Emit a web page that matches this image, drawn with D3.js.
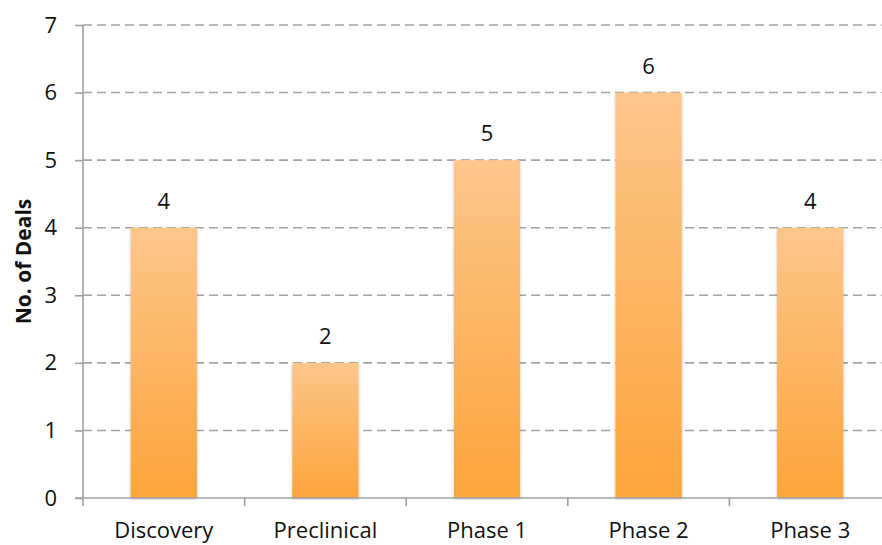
<!DOCTYPE html>
<html lang="en">
<head>
<meta charset="UTF-8">
<title>No. of Deals by Phase</title>
<style>
    body { margin: 0; background: #fff; }
    svg text { font-family: "Open Sans", Arial, sans-serif; fill: #111; }
    .grid line { stroke: #a3a3a3; stroke-width: 1.6; stroke-dasharray: 9,5; }
    .axis path, .axis line { stroke: #a0a0a0; stroke-width: 1.6; }
</style>
</head>
<body>
<div id="chart"></div>
<script src="https://d3js.org/d3.v7.min.js"></script>
<script>
// Chart data
const categories = ["Discovery", "Preclinical", "Phase 1", "Phase 2", "Phase 3"];
const deals = [4, 2, 5, 6, 4];
const yTicks = [0, 1, 2, 3, 4, 5, 6, 7];
const yTitle = "No. of Deals";

const width = 882, height = 545;
// plot area (right side runs past the window edge, as in the reference)
const plot = { left: 83, right: 891, top: 25, bottom: 498 };

const svg = d3.select("#chart").append("svg")
    .attr("width", width)
    .attr("height", height);

const defs = svg.append("defs");
const grad = defs.append("linearGradient")
    .attr("id", "barGrad")
    .attr("x1", 0).attr("y1", 0).attr("x2", 0).attr("y2", 1);
grad.append("stop").attr("offset", "0%").attr("stop-color", "#fdc68c");
grad.append("stop").attr("offset", "100%").attr("stop-color", "#fca53b");

const shadow = defs.append("filter").attr("id", "shadow")
    .attr("x", "-10%").attr("y", "-5%").attr("width", "120%").attr("height", "110%");
shadow.append("feDropShadow")
    .attr("dx", 0).attr("dy", 1).attr("stdDeviation", 1.5)
    .attr("flood-color", "#000").attr("flood-opacity", 0.25);

const x = d3.scaleBand()
    .domain(categories)
    .range([plot.left, plot.right])
    .paddingInner(0.59)
    .paddingOuter(0.295);

const y = d3.scaleLinear()
    .domain([0, 7])
    .range([plot.bottom, plot.top]);

// dashed gridlines
svg.append("g")
    .attr("class", "grid")
    .selectAll("line")
    .data(yTicks.filter(d => d > 0))
    .join("line")
    .attr("x1", plot.left).attr("x2", width)
    .attr("y1", d => y(d)).attr("y2", d => y(d));

// y axis
const yAxis = svg.append("g")
    .attr("class", "axis")
    .attr("transform", `translate(${plot.left},0)`)
    .call(d3.axisLeft(y).tickValues(yTicks).tickFormat(d3.format("d"))
        .tickSize(8).tickSizeOuter(0).tickPadding(18));
yAxis.selectAll("text").style("font-size", "22px");
yAxis.select(".domain").attr("d", `M0,${plot.top}V${plot.bottom}`);

// bars
svg.append("g")
    .selectAll("rect")
    .data(deals)
    .join("rect")
    .attr("x", (d, i) => x(categories[i]))
    .attr("y", d => y(d))
    .attr("width", x.bandwidth())
    .attr("height", d => y(0) - y(d))
    .attr("fill", "url(#barGrad)")
    .attr("filter", "url(#shadow)");

// value labels
svg.append("g")
    .selectAll("text")
    .data(deals)
    .join("text")
    .attr("x", (d, i) => x(categories[i]) + x.bandwidth() / 2)
    .attr("y", d => y(d) - 19)
    .attr("text-anchor", "middle")
    .style("font-size", "22px")
    .text(d => d);

// x axis: ticks sit on band boundaries
const xAxis = svg.append("g")
    .attr("class", "axis")
    .attr("transform", `translate(0,${plot.bottom})`);
xAxis.append("line")
    .attr("x1", plot.left - 8).attr("x2", width)
    .attr("y1", 0).attr("y2", 0);
const step = x.step();
xAxis.selectAll(".tk")
    .data(d3.range(categories.length))
    .join("line")
    .attr("class", "tk")
    .attr("x1", i => plot.left + i * step).attr("x2", i => plot.left + i * step)
    .attr("y1", 0).attr("y2", 8);
xAxis.selectAll("text")
    .data(categories)
    .join("text")
    .attr("x", d => x(d) + x.bandwidth() / 2)
    .attr("y", 40)
    .attr("text-anchor", "middle")
    .style("font-size", "22px")
    .text(d => d);

// y axis title
svg.append("text")
    .attr("transform", `translate(31,${(plot.top + plot.bottom) / 2}) rotate(-90)`)
    .attr("text-anchor", "middle")
    .style("font-size", "21px")
    .style("font-weight", "bold")
    .text(yTitle);
</script>
</body>
</html>
